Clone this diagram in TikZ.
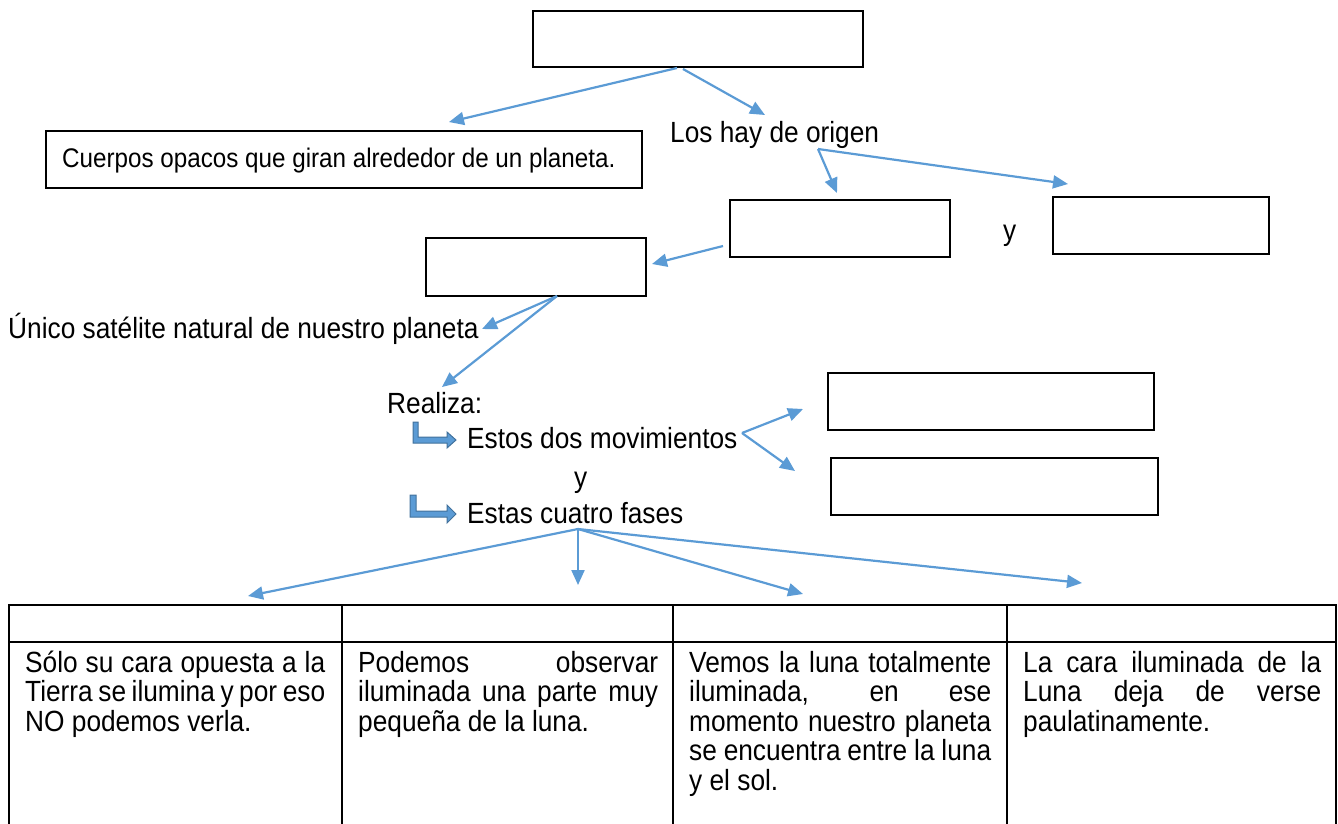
\documentclass[tikz,border=0pt]{standalone}
\usepackage{fontspec}
\setmainfont[FakeStretch=0.9]{Liberation Sans}
\usetikzlibrary{arrows.meta}
\definecolor{arrblue}{HTML}{5B9BD5}
\definecolor{darkblue}{HTML}{41719C}
\newcommand{\jl}[2]{\makebox[#1pt][s]{#2}}
\begin{document}
\begin{tikzpicture}[x=1pt,y=-1pt,
  box/.style={draw=black,line width=1.6pt,inner sep=0pt,fill=white},
  txt/.style={inner sep=0pt,anchor=base west,font=\fontsize{29.2}{30}\selectfont},
  arr/.style={draw=arrblue,line width=2.2pt,-{Triangle[length=15pt,width=13pt]}},
  bentarrow/.style={fill=arrblue,draw=darkblue,line width=1pt,line join=miter},
  tbl/.style={line width=1.8pt}]
\useasboundingbox (0,0) rectangle (1338,823);

% boxes
\node[box,minimum width=330pt,minimum height=56pt] (top) at (698,39) {};
\node[box,minimum width=596pt,minimum height=57pt] (cuerpos) at (344,159.5) {};
\node[box,minimum width=220pt,minimum height=57pt] (b2) at (840,228.5) {};
\node[box,minimum width=216pt,minimum height=57pt] (b3) at (1161,225.5) {};
\node[box,minimum width=220pt,minimum height=58pt] (b4) at (536,267) {};
\node[box,minimum width=326pt,minimum height=57pt] (b5) at (991,401.5) {};
\node[box,minimum width=327pt,minimum height=57pt] (b6) at (994.5,486.5) {};

% texts
\node[txt,font=\fontsize{26.9}{30}\selectfont] (tcuerpos) at (62,167) {Cuerpos opacos que giran alrededor de un planeta.};
\node[txt] (loshay) at (670,142) {Los hay de origen};
\node[txt] (y1) at (1003,240) {y};
\node[txt] (unico) at (8,338) {Único satélite natural de nuestro planeta};
\node[txt] (realiza) at (387,413) {Realiza:};
\node[txt] (estos) at (467,448) {Estos dos movimientos};
\node[txt] (y2) at (574,487) {y};
\node[txt] (fases) at (467,523) {Estas cuatro fases};

% bent arrows
\draw[bentarrow] (413,422) -- (418,422) -- (418,437) -- (447,437) -- (447,432) -- (456,440) -- (447,448) -- (447,443) -- (413,443) -- cycle;
\draw[bentarrow] (410,495) -- (416,495) -- (416,511) -- (447,511) -- (447,505) -- (456,514) -- (447,523) -- (447,517) -- (410,517) -- cycle;

% connector points
\coordinate (s1) at (677,68);
\coordinate (s2) at (683,69);
\coordinate (e1) at (449,122);
\coordinate (e2) at (765,115);
\coordinate (s3) at (818,149);
\coordinate (e3) at (837,193);
\coordinate (e4) at (1068,184);
\coordinate (s5) at (723,246);
\coordinate (e5) at (652,264);
\coordinate (s6) at (557,296);
\coordinate (e6) at (482,329);
\coordinate (e7) at (442,387);
\coordinate (s8) at (742,433);
\coordinate (e8) at (803,409);
\coordinate (e9) at (795,471);
\coordinate (sf) at (578,529);
\coordinate (f1) at (248,596);
\coordinate (f2) at (578,585);
\coordinate (f3) at (803,594);
\coordinate (f4) at (1082,583);

\draw[arr] (s1) -- (e1);
\draw[arr] (s2) -- (e2);
\draw[arr] (s3) -- (e3);
\draw[arr] (s3) -- (e4);
\draw[arr] (s5) -- (e5);
\draw[arr] (s6) -- (e6);
\draw[arr] (s6) -- (e7);
\draw[arr] (s8) -- (e8);
\draw[arr] (s8) -- (e9);
\draw[arr] (sf) -- (f1);
\draw[arr] (sf) -- (f2);
\draw[arr] (sf) -- (f3);
\draw[arr] (sf) -- (f4);

% table
\draw[tbl] (9,824) -- (9,605) -- (1336,605) -- (1336,824);
\draw[tbl] (9,642) -- (1336,642);
\draw[tbl] (342,605) -- (342,824);
\draw[tbl] (673,605) -- (673,824);
\draw[tbl] (1007,605) -- (1007,824);

% table texts
\node[txt] (c1a) at (25,672) {\jl{300}{Sólo su cara opuesta a la}};
\node[txt] (c1b) at (25,701.5) {\jl{300}{Tierra se ilumina y por eso}};
\node[txt] (c1c) at (25,731) {NO podemos verla.};
\node[txt] (c2a) at (358,672) {\jl{300}{Podemos observar}};
\node[txt] (c2b) at (358,701.5) {\jl{300}{iluminada una parte muy}};
\node[txt] (c2c) at (358,731) {pequeña de la luna.};
\node[txt] (c3a) at (689,672) {\jl{302}{Vemos la luna totalmente}};
\node[txt] (c3b) at (689,701.5) {\jl{302}{iluminada, en ese}};
\node[txt] (c3c) at (689,731) {\jl{302}{momento nuestro planeta}};
\node[txt] (c3d) at (689,760.5) {\jl{302}{se encuentra entre la luna}};
\node[txt] (c3e) at (689,790) {y el sol.};
\node[txt] (c4a) at (1023,672) {\jl{298}{La cara iluminada de la}};
\node[txt] (c4b) at (1023,701.5) {\jl{298}{Luna deja de verse}};
\node[txt] (c4c) at (1023,731) {paulatinamente.};
\end{tikzpicture}
\end{document}
